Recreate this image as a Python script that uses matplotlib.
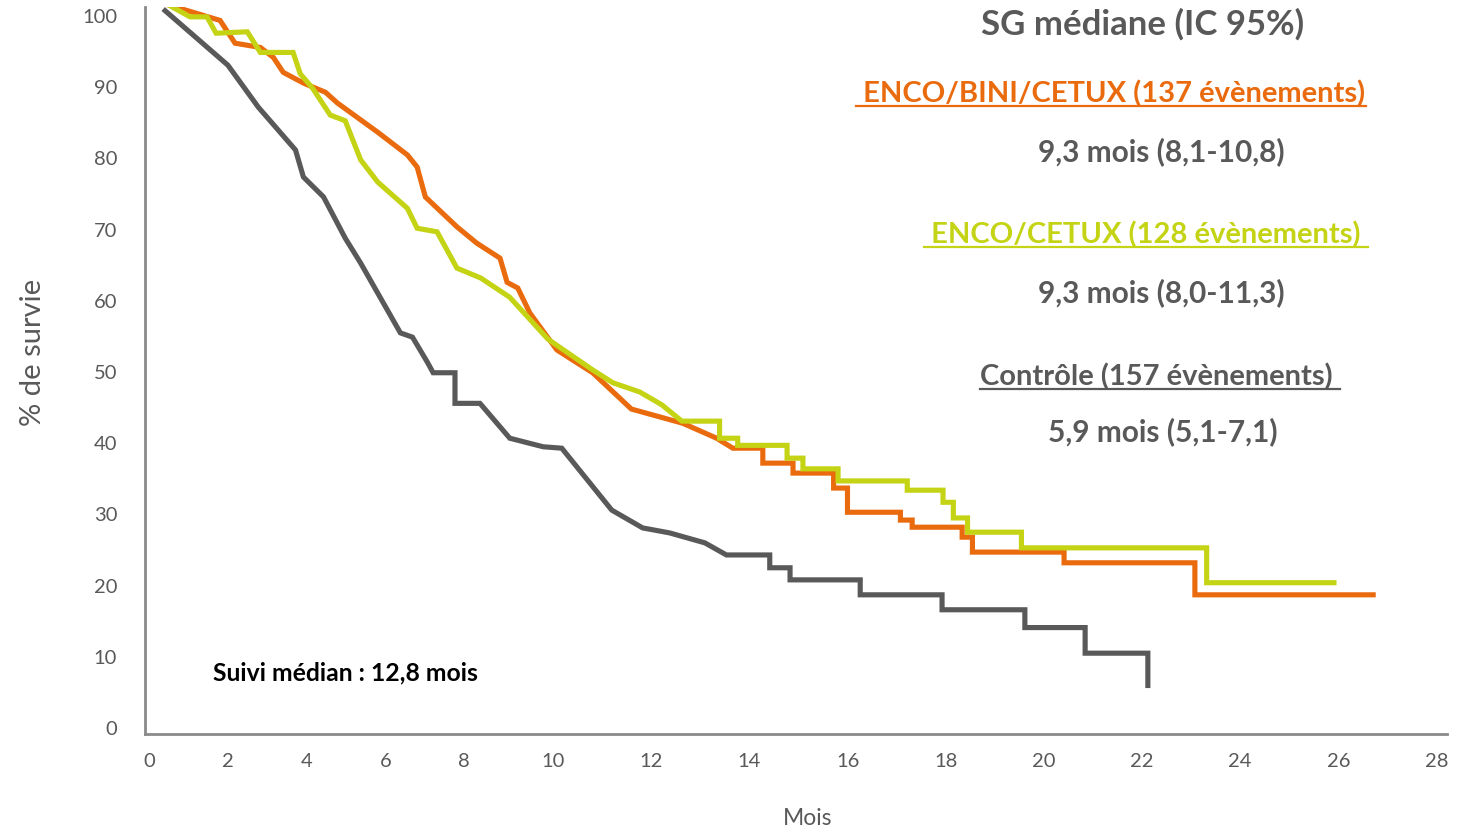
import numpy as np
import matplotlib
matplotlib.use("Agg")
import matplotlib.pyplot as plt
from matplotlib.lines import Line2D

plt.rcParams['font.family'] = ['Lato', 'DejaVu Sans']

# survival curves, months vs % alive
orange_t = [0.36, 1.80, 2.18, 2.82, 3.15, 3.40, 3.91, 4.47, 4.77, 5.79, 6.55, 6.80, 7.01,
            7.82, 8.29, 8.81, 8.97, 9.21, 9.48, 10.08, 10.81, 11.60, 12.65, 13.34, 13.67,
            14.28, 14.28, 14.89, 14.89, 15.71, 15.71, 15.99, 15.99, 17.07, 17.07, 17.31,
            17.31, 18.33, 18.33, 18.54, 18.54, 20.41, 20.41, 23.08, 23.08, 26.75]
orange_s = [101.8, 99.4, 96.2, 95.6, 94.2, 92.1, 90.6, 89.3, 87.8, 83.7, 80.5, 78.8, 74.6,
            70.4, 68.1, 66.0, 62.6, 61.8, 58.3, 53.1, 49.9, 44.8, 42.8, 40.7, 39.3,
            39.3, 37.2, 37.2, 35.8, 35.8, 33.7, 33.7, 30.3, 30.3, 29.2, 29.2,
            28.2, 28.2, 26.8, 26.8, 24.7, 24.7, 23.2, 23.2, 18.7, 18.7]

green_t = [0.36, 1.04, 1.47, 1.70, 2.49, 2.82, 3.65, 3.83, 4.14, 4.59, 4.97, 5.36, 5.79,
           6.55, 6.80, 7.31, 7.82, 8.38, 9.03, 9.89, 10.81, 11.22, 11.77, 12.22, 12.63,
           13.40, 13.40, 13.77, 13.77, 14.77, 14.77, 15.09, 15.09, 15.80, 15.80, 17.21,
           17.21, 17.94, 17.94, 18.15, 18.15, 18.44, 18.44, 19.54, 19.54, 23.32, 23.32, 25.95]
green_s = [102.0, 99.9, 99.9, 97.6, 97.8, 94.9, 94.9, 91.9, 89.9, 86.1, 85.3, 79.8, 76.7,
           73.0, 70.2, 69.7, 64.6, 63.2, 60.5, 54.6, 50.3, 48.5, 47.2, 45.4, 43.1,
           43.1, 40.7, 40.7, 39.7, 39.7, 37.9, 37.9, 36.4, 36.4, 34.7, 34.7,
           33.4, 33.4, 31.7, 31.7, 29.5, 29.5, 27.5, 27.5, 25.3, 25.3, 20.4, 20.4]

ctrl_t = [0.36, 2.00, 2.77, 3.71, 3.91, 4.42, 4.97, 5.36, 6.37, 6.68, 7.06, 7.21, 7.77,
          7.77, 8.36, 9.03, 9.78, 10.18, 11.20, 11.83, 12.38, 13.10, 13.54, 14.42, 14.42,
          14.83, 14.83, 16.25, 16.25, 17.92, 17.92, 19.61, 19.61, 20.84, 20.84, 22.12, 22.12]
ctrl_s = [101.0, 93.1, 87.2, 81.2, 77.4, 74.6, 68.8, 65.3, 55.5, 54.9, 51.4, 49.9, 49.9,
          45.6, 45.6, 40.7, 39.5, 39.3, 30.6, 28.1, 27.4, 26.0, 24.3, 24.3, 22.5,
          22.5, 20.8, 20.8, 18.7, 18.7, 16.6, 16.6, 14.1, 14.1, 10.5, 10.5, 5.6]

x_ticks = np.arange(0, 29, 2)
y_ticks = np.arange(0, 101, 10)

# the month axis is stretched unevenly: spacing of each 2-month label
label_pos = np.array([0, 79, 158, 237, 315, 404, 502, 600, 699, 797, 895, 993, 1091, 1190, 1288], float)


def fwd(m):
    m = np.asarray(m, float)
    out = np.interp(m, x_ticks, label_pos)
    lo = (label_pos[1] - label_pos[0]) / 2
    hi = (label_pos[-1] - label_pos[-2]) / 2
    out = np.where(m < 0, label_pos[0] + m * lo, out)
    out = np.where(m > 28, label_pos[-1] + (m - 28) * hi, out)
    return out


def inv(p):
    p = np.asarray(p, float)
    out = np.interp(p, label_pos, x_ticks)
    lo = (label_pos[1] - label_pos[0]) / 2
    hi = (label_pos[-1] - label_pos[-2]) / 2
    out = np.where(p < label_pos[0], p / lo, out)
    out = np.where(p > label_pos[-1], 28 + (p - label_pos[-1]) / hi, out)
    return out


ORANGE = '#EA6A0E'
GREEN = '#C4D313'
GREY = '#595959'
AXIS = '#8A8A8A'

W, H = 1481, 830
fig = plt.figure(figsize=(14.81, 8.30), dpi=100)
ax = fig.add_axes([0.0979, 0.1157, 0.879, 0.876])
ax.set_xscale('function', functions=(fwd, inv))

lw = 3.7
ax.plot(ctrl_t, ctrl_s, color=GREY, lw=lw, solid_joinstyle='miter', solid_capstyle='butt')
ax.plot(orange_t, orange_s, color=ORANGE, lw=lw, solid_joinstyle='miter', solid_capstyle='butt')
ax.plot(green_t, green_s, color=GREEN, lw=lw, solid_joinstyle='miter', solid_capstyle='butt')

ax.set_xlim(-0.1, 28.2)
ax.set_ylim(-0.85, 101.3)
ax.set_xticks(x_ticks)
ax.set_yticks(y_ticks)
ax.xaxis.set_minor_locator(matplotlib.ticker.NullLocator())
ax.tick_params(length=0, labelsize=14.5, labelcolor=GREY)
ax.tick_params(axis='y', pad=20)
ax.tick_params(axis='x', pad=14)
for s in ['top', 'right']:
    ax.spines[s].set_visible(False)
for s in ['left', 'bottom']:
    ax.spines[s].set_color(AXIS)
    ax.spines[s].set_linewidth(2)

fig.text(33 / W, 1 - 352 / H, '% de survie', rotation=90, ha='center', va='center',
         fontsize=21, color=GREY)
fig.text(808 / W, 1 - 818 / H, 'Mois', ha='center', va='center', fontsize=16.5, color=GREY)

fig.text(213 / W, 1 - 673 / H, 'Suivi médian : 12,8 mois', ha='left', va='center',
         fontsize=17.8, fontweight='bold', color='black')

# median OS summary on the right
fig.text(1143 / W, 1 - 24 / H, 'SG médiane (IC 95%)', ha='center', va='center',
         fontsize=25, fontweight='bold', color=GREY)

heads = [
    (' ENCO/BINI/CETUX (137 évènements)', ORANGE, 1111, 94),
    (' ENCO/CETUX (128 évènements) ', GREEN, 1146, 235),
    ('Contrôle (157 évènements) ', GREY, 1160, 377),
]
medians = [('9,3 mois (8,1-10,8)', 1161, 152), ('9,3 mois (8,0-11,3)', 1161, 293),
           ('5,9 mois (5,1-7,1)', 1163, 432)]

head_txt = []
for label, col, x, y in heads:
    t = fig.text(x / W, 1 - y / H, label, ha='center', va='center',
                 fontsize=21, fontweight='bold', color=col)
    head_txt.append((t, col))
for label, x, y in medians:
    fig.text(x / W, 1 - y / H, label, ha='center', va='center',
             fontsize=21.5, fontweight='bold', color=GREY)

fig.canvas.draw()
r = fig.canvas.get_renderer()
for t, col in head_txt:
    bb = t.get_window_extent(r)
    yline = bb.y0 + 2
    fig.add_artist(Line2D([bb.x0, bb.x1], [yline, yline], transform=None,
                          color=col, lw=1.6))

fig.savefig('out.png', dpi=100)
